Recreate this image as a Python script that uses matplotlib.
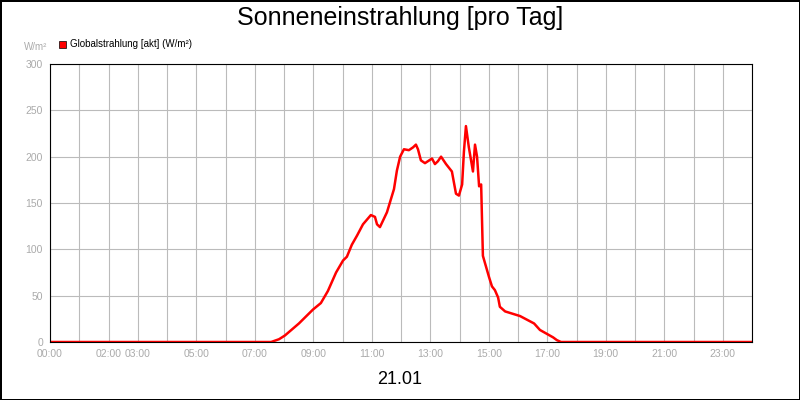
import matplotlib
matplotlib.use('Agg')
import matplotlib.pyplot as plt
import numpy as np

plt.rcParams['font.family'] = ['Liberation Sans', 'DejaVu Sans']

# time in hours, radiation in W/m²
hours = [0, 7.56, 7.83, 8.03, 8.51, 8.99, 9.26, 9.50, 9.78, 10.02, 10.15, 10.32, 10.50, 10.70,
         10.97, 11.11, 11.18, 11.28, 11.52, 11.76, 11.86, 11.97, 12.10, 12.27, 12.41, 12.51,
         12.58, 12.68, 12.82, 13.06, 13.16, 13.26, 13.37, 13.54, 13.74, 13.88, 13.98, 14.09,
         14.15, 14.22, 14.32, 14.46, 14.53, 14.60, 14.67, 14.74, 14.80, 15.01, 15.11, 15.21,
         15.32, 15.38, 15.56, 16.07, 16.55, 16.75, 17.20, 17.33, 17.47, 24.0]
values = [0, 0, 3, 7, 20, 35, 42, 55, 75, 88, 92, 105, 115, 127,
          137, 135, 127, 124, 140, 165, 185, 200, 208, 207, 210, 213,
          208, 196, 193, 198, 192, 195, 200, 192, 184, 160, 158, 170,
          205, 233, 210, 184, 213, 200, 168, 170, 93, 70, 60, 56,
          48, 38, 33, 28, 20, 13, 5, 2, 0, 0]

tick_hours = [0, 2, 3, 5, 7, 9, 11, 13, 15, 17, 19, 21, 23]
tick_labels = ['%02d:00' % h for h in tick_hours]

fig = plt.figure(figsize=(8, 4), dpi=100)
fig.patch.set_edgecolor('black')
fig.patch.set_linewidth(2)
ax = fig.add_axes([50/800, 1-342/400, 702/800, 278/400])
ax.plot(hours, values, color='#ff0000', lw=1.8)
ax.set_xlim(0, 24)
ax.set_ylim(0, 300)
ax.set_xticks(np.arange(0, 25, 1), minor=True)
ax.set_xticks(tick_hours)
ax.set_xticklabels(tick_labels)
ax.set_yticks(range(0, 301, 50))
ax.grid(True, which='both', color='#bbbbbb', lw=0.8)
ax.set_axisbelow(True)
ax.tick_params(which='both', length=0, labelsize=7.5, labelcolor='#aaaaaa', pad=5)
for s in ax.spines.values():
    s.set_color('black')

fig.text(0.5, 0.955, 'Sonneneinstrahlung [pro Tag]', ha='center', va='center', fontsize=18)
fig.text(24/800, 1-47/400, 'W/m²', fontsize=7, color='#aaaaaa', va='center')
fig.patches.append(plt.Rectangle((59/800, 1-48/400), 7/800, 7/400, transform=fig.transFigure,
                                 facecolor='#ff0000', edgecolor='black', lw=0.5))
fig.text(70/800, 1-44/400, 'Globalstrahlung [akt] (W/m²)', fontsize=7, va='center')
fig.text(400/800, 1-379/400, '21.01', ha='center', va='center', fontsize=13)

fig.savefig('out.png', dpi=100)
